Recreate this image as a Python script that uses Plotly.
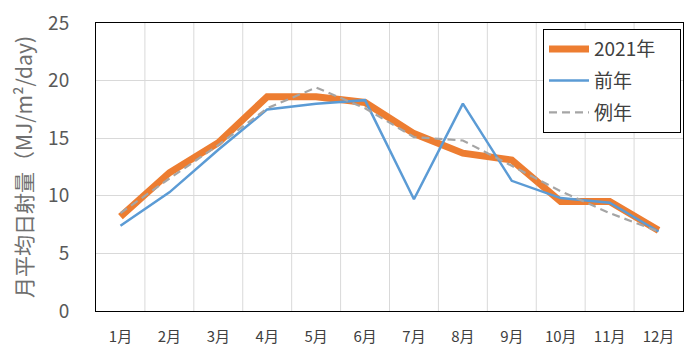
import plotly.graph_objects as go

months = ["1月", "2月", "3月", "4月", "5月", "6月", "7月", "8月", "9月", "10月", "11月", "12月"]
y2021 = [8.2, 12.0, 14.6, 18.6, 18.6, 18.1, 15.4, 13.7, 13.1, 9.5, 9.5, 7.0]
prev_year = [7.4, 10.3, 14.0, 17.5, 18.0, 18.3, 9.7, 18.0, 11.3, 9.8, 9.4, 6.9]
normal = [8.5, 11.5, 14.4, 17.6, 19.4, 17.6, 15.1, 14.8, 12.6, 10.4, 8.5, 6.9]

font_family = "Noto Sans CJK JP, Noto Sans, sans-serif"

fig = go.Figure()
fig.add_trace(go.Scatter(x=months, y=y2021, name="2021年　", mode="lines", legendgroup="a",
                         line=dict(color="#ED7D31", width=7)))
fig.add_trace(go.Scatter(x=months, y=prev_year, name="前年", mode="lines", legendgroup="b",
                         line=dict(color="#5B9BD5", width=2.5)))
fig.add_trace(go.Scatter(x=months, y=normal, name="例年", mode="lines", legendgroup="c",
                         line=dict(color="#A5A5A5", width=2.2, dash="8px,5px")))

fig.update_layout(
    width=700, height=364,
    margin=dict(l=88, r=25, t=15, b=61, autoexpand=False),
    paper_bgcolor="white", plot_bgcolor="white",
    font=dict(family=font_family, color="#595959"),
    showlegend=True,
    legend=dict(x=0.9966, y=0.979, xanchor="right", yanchor="top",
                bordercolor="#000000", borderwidth=1, bgcolor="white",
                font=dict(size=19, color="#404040"), itemwidth=40,
                tracegroupgap=4),
)
fig.update_xaxes(
    type="category", tickfont=dict(size=15, color="#404040"),
    showgrid=False, ticks="", showline=True, linecolor="#000000", linewidth=1,
    mirror=True, range=[-0.5, 11.5], automargin=False, ticklabelstandoff=12,
)
fig.update_yaxes(
    range=[0, 25], dtick=5, tickfont=dict(size=19, color="#595959"),
    showgrid=True, gridcolor="#D9D9D9", gridwidth=1,
    showline=True, linecolor="#000000", linewidth=1, mirror=True,
    zeroline=False, ticks="", ticklabelstandoff=22, automargin=False,
    ticklabeloverflow="allow",
    title=dict(text="月平均日射量（MJ/m²/day)", font=dict(size=21, color="#6F6F6F"), standoff=12),
)
# vertical gridlines between categories
for i in range(1, 12):
    fig.add_shape(type="line", xref="x", yref="paper", x0=i - 0.5, x1=i - 0.5, y0=0, y1=1,
                  line=dict(color="#D9D9D9", width=1), layer="below")

fig.write_html("out.html")
